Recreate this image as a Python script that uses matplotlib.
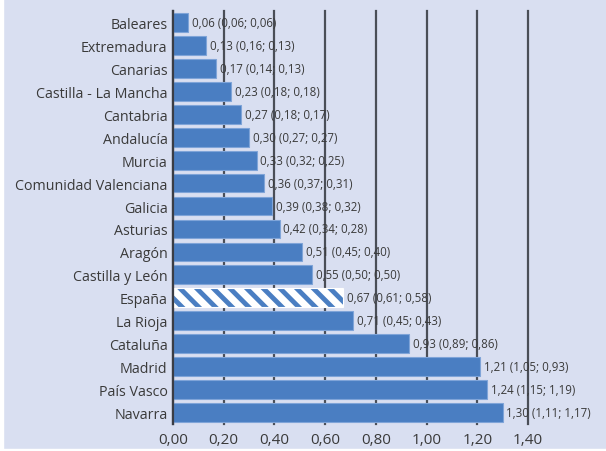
import numpy as np
import matplotlib
matplotlib.use('Agg')
import matplotlib.pyplot as plt
from matplotlib.patches import Rectangle

regions = ['Baleares', 'Extremadura', 'Canarias', 'Castilla - La Mancha', 'Cantabria',
           'Andalucía', 'Murcia', 'Comunidad Valenciana', 'Galicia', 'Asturias',
           'Aragón', 'Castilla y León', 'España', 'La Rioja', 'Cataluña', 'Madrid',
           'País Vasco', 'Navarra']
values = [0.06, 0.13, 0.17, 0.23, 0.27, 0.30, 0.33, 0.36, 0.39, 0.42,
          0.51, 0.55, 0.67, 0.71, 0.93, 1.21, 1.24, 1.30]
prev1 = [0.06, 0.16, 0.14, 0.18, 0.18, 0.27, 0.32, 0.37, 0.38, 0.34,
         0.45, 0.50, 0.61, 0.45, 0.89, 1.05, 1.15, 1.11]
prev2 = [0.06, 0.13, 0.13, 0.18, 0.17, 0.27, 0.25, 0.31, 0.32, 0.28,
         0.40, 0.50, 0.58, 0.43, 0.86, 0.93, 1.19, 1.17]
xticks = [0.0, 0.2, 0.4, 0.6, 0.8, 1.0, 1.2, 1.4]

bg = '#D9DFF1'
blue = '#4A7EC2'
txt = '#3A3A3A'

plt.rcParams['font.family'] = ['Open Sans', 'DejaVu Sans']
plt.rcParams['hatch.linewidth'] = 5.0

fig = plt.figure(figsize=(6.06, 4.52), dpi=100, facecolor=bg)
# thin white margin on the left and bottom
fig.patches.append(Rectangle((0, 0), 3 / 606, 1, transform=fig.transFigure, color='white', zorder=-1))
fig.patches.append(Rectangle((0, 0), 1, 2 / 452, transform=fig.transFigure, color='white', zorder=-1))

ax = fig.add_axes([173 / 606, 27 / 452, 355 / 606, 413 / 452])
ax.set_facecolor(bg)

y = np.arange(len(regions))
bars = ax.barh(y, values, height=0.82, color=blue, edgecolor='#7FA4D8', linewidth=0.8, zorder=3)
esp = regions.index('España')
bars[esp].set_hatch('\\\\')
bars[esp].set_edgecolor('white')
bars[esp].set_facecolor(blue)

for i in range(len(regions)):
    lab = f'{values[i]:.2f} ({prev1[i]:.2f}; {prev2[i]:.2f})'.replace('.', ',')
    ax.text(values[i] + 0.015, y[i], lab, va='center', ha='left', fontsize=8.3,
            color=txt, zorder=4)

ax.set_xlim(0, 1.4)
ax.set_ylim(len(regions) - 0.5, -0.5)
ax.set_xticks(xticks)
ax.set_xticklabels([f'{t:.2f}'.replace('.', ',') for t in xticks], fontsize=11, color=txt)
ax.set_yticks(y)
ax.set_yticklabels(regions, fontsize=10.3, color=txt)
ax.tick_params(axis='both', length=0, pad=6)
ax.tick_params(axis='y', pad=4)
ax.grid(axis='x', color='#4A4E57', linewidth=1.6, zorder=1)
for gl in ax.get_xgridlines():
    gl.set_clip_on(False)
for s in ['top', 'right', 'bottom']:
    ax.spines[s].set_visible(False)
ax.spines['left'].set_color('#3A3D45')
ax.spines['left'].set_linewidth(1.6)
ax.spines['left'].set_zorder(5)

plt.savefig('out.png', dpi=100, facecolor=bg)
